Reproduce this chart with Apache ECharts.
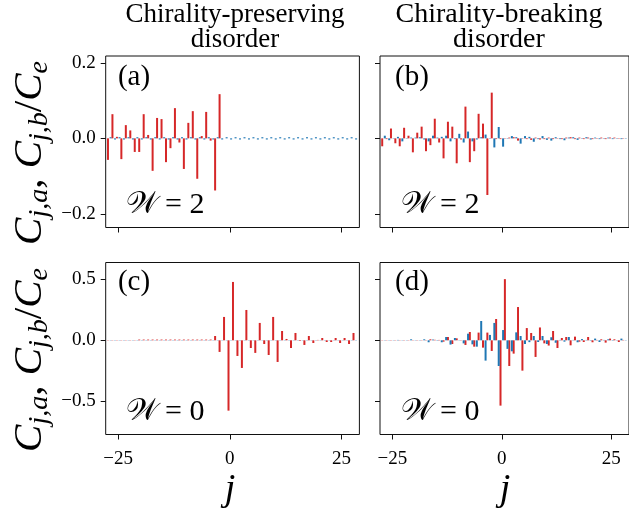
<!DOCTYPE html>
<html>
<head>
<meta charset="utf-8">
<script src="https://cdn.jsdelivr.net/npm/echarts@6/dist/echarts.min.js"></script>
<style>
html,body{margin:0;padding:0;background:#fff;}
#c{width:629px;height:508px;}
</style>
</head>
<body>
<div id="c"></div>
<script>
// site index j
const sites = [-27,-26,-25,-24,-23,-22,-21,-20,-19,-18,-17,-16,-15,-14,-13,-12,-11,-10,-9,-8,-7,-6,-5,-4,-3,-2,-1,0,1,2,3,4,5,6,7,8,9,10,11,12,13,14,15,16,17,18,19,20,21,22,23,24,25,26,27,28];

// (a) chirality-preserving, W=2
const aRed = [-0.057,0.064,0.004,-0.055,0.035,0.021,-0.036,-0.036,0.064,0.009,-0.086,0.054,0.051,-0.063,-0.026,0.080,-0.011,-0.081,0.041,0.072,-0.107,0.006,0.070,-0.006,-0.138,0.117,
  0,0,0,0,0,0,0,0,0,0,0,0,0,0,0,0,0,0,0,0,0,0,0,0,0,0,0,0,0,0];
const aBlue = [0.003,-0.003,0.003,-0.003,0.003,-0.003,0.003,-0.003,0.003,-0.003,0.003,-0.003,0.003,-0.003,0.003,-0.003,0.003,-0.003,0.003,-0.003,0.003,-0.003,0.003,-0.003,0.003,-0.003,0.003,-0.003,
  0.003,-0.003,0.003,-0.003,0.003,-0.003,0.003,-0.003,0.003,-0.003,0.003,-0.003,0.003,-0.003,0.003,-0.003,0.003,-0.003,0.003,-0.003,0.003,-0.003,0.003,-0.003,0.003,-0.003,0.003,-0.003];

// (b) chirality-breaking, W=2
const bRed = [-0.021,-0.002,0.026,-0.013,-0.021,0.028,0.007,-0.037,0.015,0.031,-0.034,-0.018,0.052,-0.011,-0.053,0.044,0.031,-0.066,-0.003,0.084,-0.063,-0.034,0.065,0.039,-0.150,0.121,
  -0.002,-0.002,0.001,0.002,0.003,-0.006,0.001,-0.002,-0.004,0.002,-0.003,-0.002,0.002,-0.002,0.001,-0.002,0.002,0.003,-0.002,0.002,-0.002,0.002,-0.002,0.001,0.002,-0.002,0.002,0.002,-0.001,0.001];
const bBlue = [0.007,-0.005,0.001,0.004,-0.008,0.001,0.002,0.002,0.003,-0.003,-0.008,0.007,0.002,0.004,0.007,-0.008,-0.002,0.012,-0.011,0.018,-0.008,-0.003,0.003,0.010,0.001,-0.024,
  0.030,-0.022,-0.001,0.006,0.003,-0.014,0.006,0.004,-0.009,-0.002,0.006,-0.004,-0.006,0.003,-0.002,-0.005,0.002,0.003,-0.004,0.001,0.003,-0.003,0.002,-0.002,0.001,0.002,-0.002,0.001,-0.002,0.001];

// (c) chirality-preserving, W=0
const cRed = [0.002,0.002,0.002,0.002,0.002,0.002,0.002,
  0.006,0.006,0.006,0.006,0.006,0.006,0.006,0.006,0.006,0.006,0.006,0.006,0.006,0.006,0.006,0.006,0.006,
  0.035,-0.095,0.191,-0.575,0.477,-0.128,-0.226,0.248,-0.063,-0.103,0.142,-0.030,-0.120,0.191,-0.177,0.076,0.011,-0.063,0.060,-0.005,-0.038,0.035,-0.022,0.003,0.019,-0.014,-0.014,0.019,-0.022,0.019,-0.030,0.060];
const cBlue = [0.002,0.002,0.002,0.002,0.002,0.002,0.002,0.002,0.002,0.002,0.002,0.002,0.002,0.002,0.002,0.002,0.002,0.002,0.002,0.002,0.002,0.002,0.002,0.002,0.002,0.002,0.002,0.002,
  0.002,0.002,0.002,0.002,0.002,0.002,0.002,0.002,0.002,0.002,0.002,0.002,0.002,0.002,0.002,0.002,0.002,0.002,0.002,0.002,0.002,0.002,0.002,0.002,0.002,0.002,0.002,0.002];

// (d) chirality-breaking, W=0
const dRed = [0.002,-0.002,0.002,-0.002,0.002,-0.002,0.002,-0.002,0.002,-0.002,0.002,0.008,0.004,0.003,-0.011,0.027,-0.030,0.016,0.002,-0.038,0.068,-0.052,0.063,-0.060,0.063,-0.087,
  0.174,-0.534,0.500,-0.210,-0.109,0.272,-0.248,0.100,0.060,-0.136,0.105,-0.025,-0.043,0.076,-0.063,0.019,0.027,-0.041,0.030,-0.011,-0.014,0.027,-0.016,0.003,0.008,-0.019,0.014,0.008,-0.014,0.003];
const dBlue = [-0.002,0.002,-0.002,0.003,0.002,-0.002,0.008,0.002,-0.002,0.008,-0.016,0.006,-0.003,-0.016,0.027,-0.035,0.019,0.002,-0.025,0.054,-0.033,-0.052,0.158,-0.166,0.044,0.142,
  -0.210,0.084,-0.070,-0.090,0.065,0.035,-0.030,-0.015,0.035,-0.014,0.035,-0.030,0.025,-0.020,0.003,-0.011,0.027,0.003,-0.016,0.010,0.003,-0.003,0.014,-0.014,0.003,0.008,-0.003,0.002,0.014,-0.002];

const xTicks = [-25, 0, 25];
const yTicksTop = [-0.2, 0, 0.2];
const yTicksBottom = [-0.5, 0, 0.5];

const RED = '#d62728', BLUE = '#1f77b4';
const SERIF = '"Liberation Serif", "DejaVu Serif", serif';

const panels = [
  {left:105.7, top:56, height:171.5, ymin:-0.236, ymax:0.218, yt:yTicksTop, showY:true, showX:false, red:aRed, blue:aBlue},
  {left:380, top:56, height:171.5, ymin:-0.236, ymax:0.218, yt:yTicksTop, showY:false, showX:false, red:bRed, blue:bBlue},
  {left:105.7, top:262.5, height:172, ymin:-0.770, ymax:0.636, yt:yTicksBottom, showY:true, showX:true, red:cRed, blue:cBlue},
  {left:380, top:262.5, height:172, ymin:-0.770, ymax:0.636, yt:yTicksBottom, showY:false, showX:true, red:dRed, blue:dBlue}
];
const PW = 253.7;
const fmt = v => (v < 0 ? '\u2212' : '') + Math.abs(v);
const fmt1 = v => (v < 0 ? '\u2212' : '') + Math.abs(v).toFixed(1);

const grid = [], xAxis = [], yAxis = [], series = [];
panels.forEach((p, i) => {
  grid.push({left:p.left, top:p.top, width:PW, height:p.height, show:true, borderColor:'#111', borderWidth:1, backgroundColor:'transparent'});
  xAxis.push({gridIndex:i, type:'value', min:-27.8, max:29.03, position:'bottom',
    axisLine:{show:false, onZero:false}, splitLine:{show:false},
    axisTick:{show:true, inside:false, length:5, lineStyle:{color:'#111', width:1}, customValues:xTicks},
    axisLabel:{show:p.showX, customValues:xTicks, formatter:fmt, color:'#000', fontFamily:SERIF, fontSize:19, margin:15}});
  yAxis.push({gridIndex:i, type:'value', min:p.ymin, max:p.ymax, position:'left',
    axisLine:{show:false, onZero:false}, splitLine:{show:false},
    axisTick:{show:true, inside:false, length:5, lineStyle:{color:'#111', width:1}, customValues:p.yt},
    axisLabel:{show:p.showY, customValues:p.yt, formatter:fmt1, color:'#000', fontFamily:SERIF, fontSize:19, margin:10}});
  series.push({type:'bar', xAxisIndex:i, yAxisIndex:i, barWidth:2, barGap:'30%',
    itemStyle:{color:RED}, data:sites.map((s,k)=>[s, p.red[k]]), animation:false, silent:true});
  series.push({type:'bar', xAxisIndex:i, yAxisIndex:i, barWidth:2, barGap:'30%',
    itemStyle:{color:BLUE}, data:sites.map((s,k)=>[s, p.blue[k]]), animation:false, silent:true});
});

const txt = (x, y, text, font, extra) => Object.assign({type:'text', x:x, y:y, silent:true,
  style:Object.assign({text:text, fill:'#000', font:font, align:'center', verticalAlign:'middle'}, extra||{})});

const ylabRich = {
  c:{fontFamily:SERIF, fontStyle:'italic', fontSize:41, lineHeight:48},
  p:{fontFamily:SERIF, fontSize:41, lineHeight:48},
  s:{fontFamily:SERIF, fontStyle:'italic', fontSize:28, lineHeight:22, verticalAlign:'bottom'}
};
const ylabText = '{c|C}{s|j,a}{p|, }{c|C}{s|j,b}{p|/}{c|C}{s|e}';
const wRich = {
  w:{fontFamily:'"DejaVu Serif", "DejaVu Sans", serif', fontSize:31},
  t:{fontFamily:SERIF, fontSize:30}
};

const graphic = [
  txt(235, 2, 'Chirality-preserving\ndisorder', '27px ' + SERIF, {verticalAlign:'top', lineHeight:25}),
  txt(499, 2, 'Chirality-breaking\ndisorder', '28px ' + SERIF, {verticalAlign:'top', lineHeight:25}),
  txt(134, 77, '(a)', '29px ' + SERIF),
  txt(412, 77, '(b)', '29px ' + SERIF),
  txt(134, 282, '(c)', '29px ' + SERIF),
  txt(412, 282, '(d)', '29px ' + SERIF),
  txt(165, 205, '{w|\uD835\uDCB2}{t| = 2}', '30px ' + SERIF, {rich:wRich}),
  txt(440, 205, '{w|\uD835\uDCB2}{t| = 2}', '30px ' + SERIF, {rich:wRich}),
  txt(165, 412, '{w|\uD835\uDCB2}{t| = 0}', '30px ' + SERIF, {rich:wRich}),
  txt(440, 412, '{w|\uD835\uDCB2}{t| = 0}', '30px ' + SERIF, {rich:wRich}),
  Object.assign(txt(30, 153, ylabText, '41px ' + SERIF, {rich:ylabRich}), {rotation:Math.PI/2}),
  Object.assign(txt(30, 360, ylabText, '41px ' + SERIF, {rich:ylabRich}), {rotation:Math.PI/2}),
  txt(230, 490, 'j', 'italic 38px ' + SERIF),
  txt(505, 490, 'j', 'italic 38px ' + SERIF)
];

const chart = echarts.init(document.getElementById('c'), null, {renderer:'canvas'});
chart.setOption({animation:false, backgroundColor:'#fff', grid, xAxis, yAxis, series, graphic});
</script>
</body>
</html>
